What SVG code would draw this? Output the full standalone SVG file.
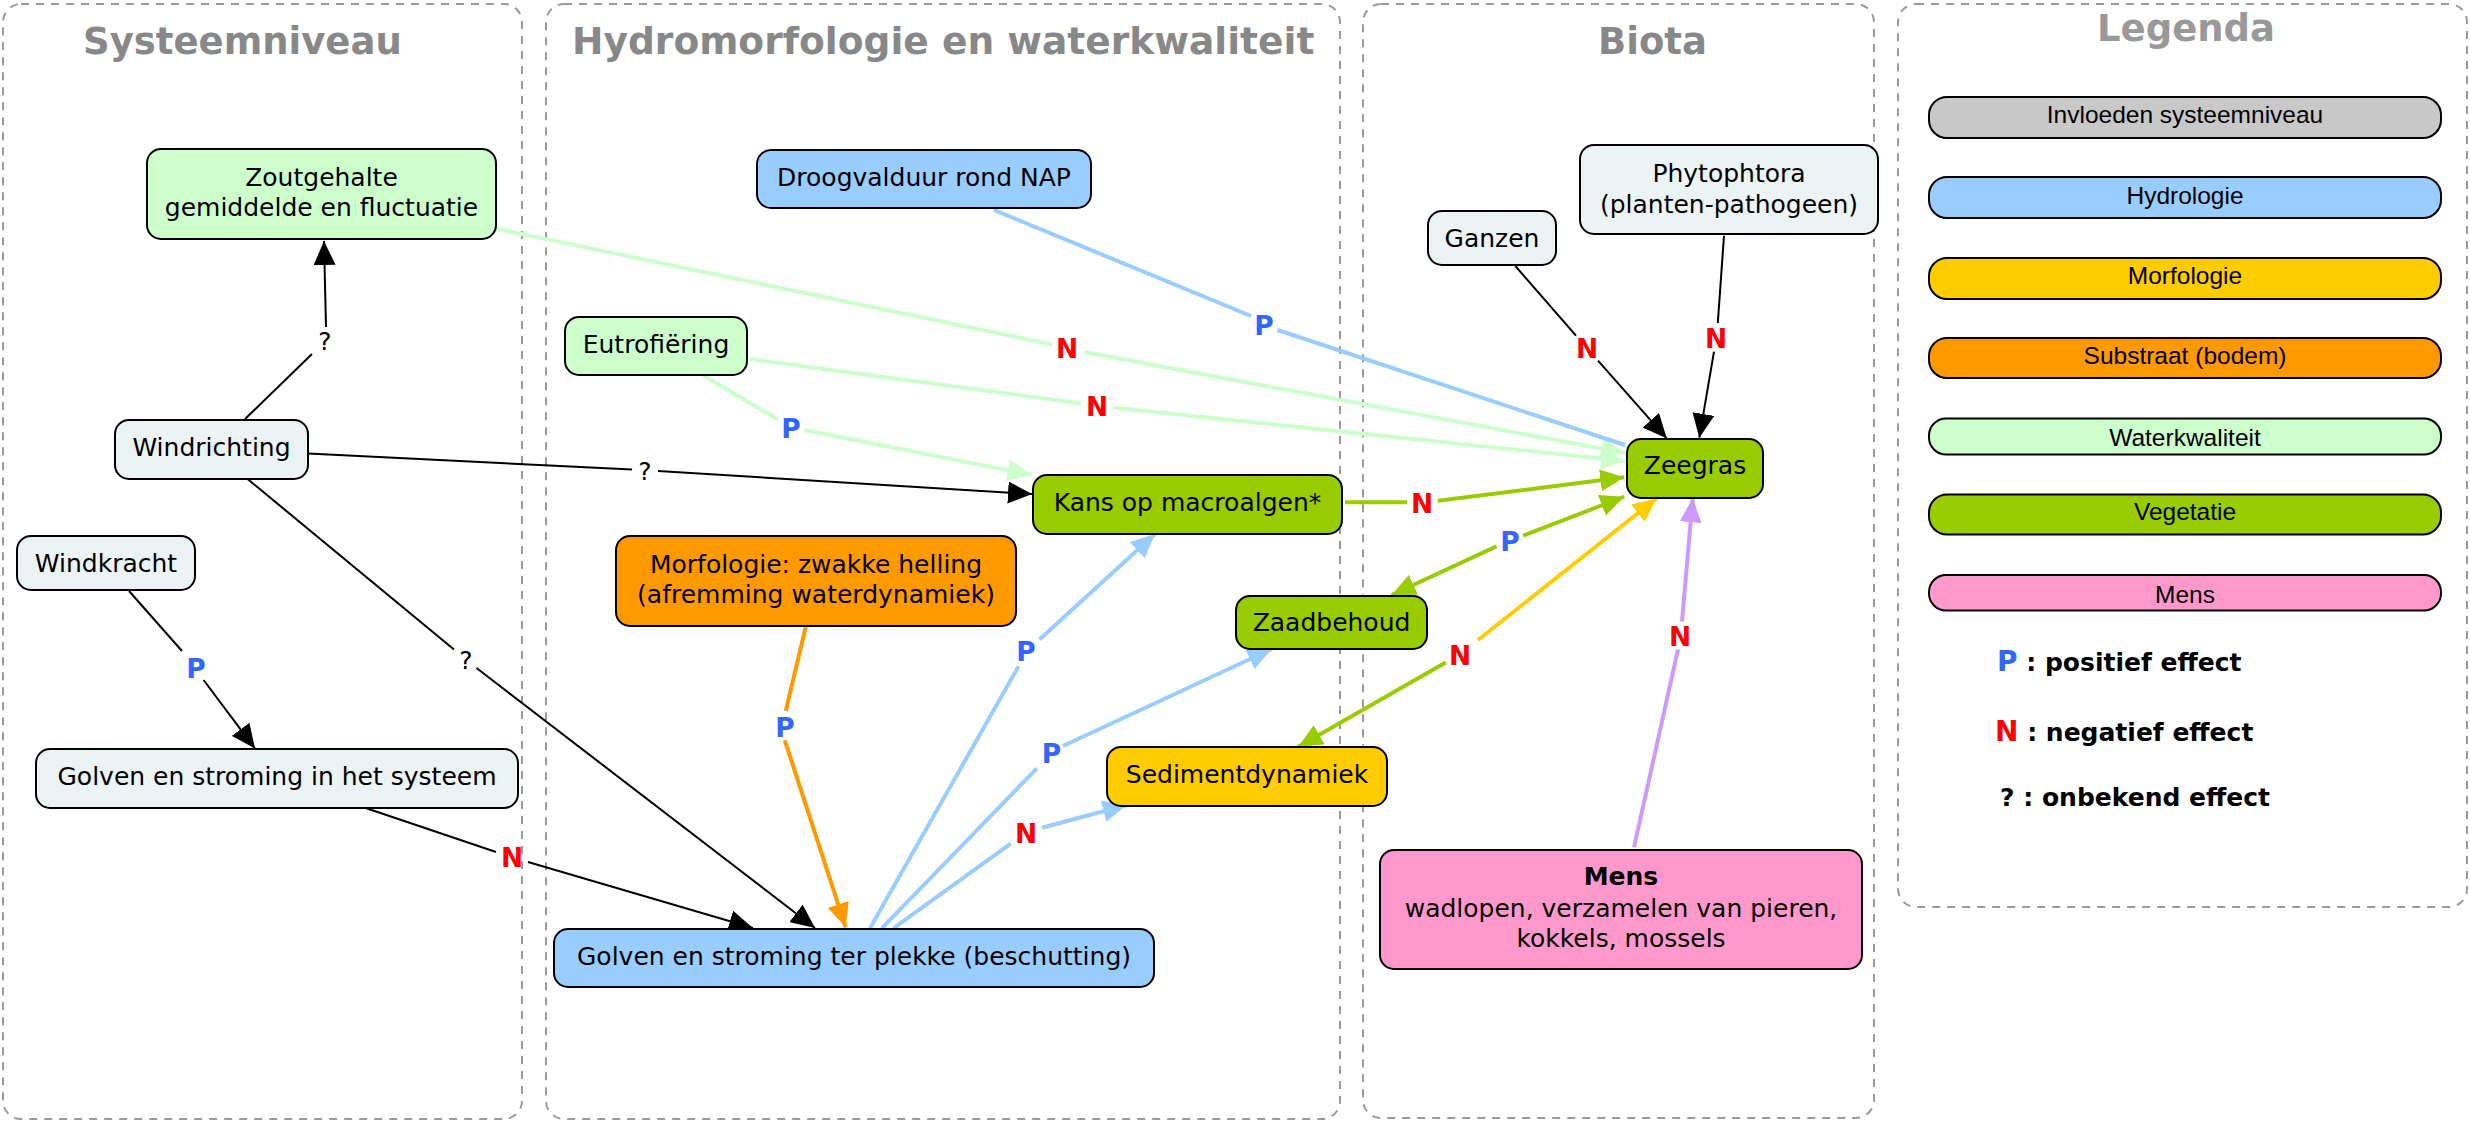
<svg xmlns="http://www.w3.org/2000/svg" width="2470" height="1122" viewBox="0 0 2470 1122">
  <style>
    .panel { fill: none; stroke: #9a9a9a; stroke-width: 2; stroke-dasharray: 8 7; }
    .ptitle { font-family: "DejaVu Sans", Verdana, sans-serif; font-weight: bold; font-size: 37px; fill: #888888; }
    .node rect { stroke: #000; stroke-width: 2; }
    .node text { font-family: "DejaVu Sans", Verdana, sans-serif; font-size: 25px; fill: #000; text-anchor: middle; }
    .sys { fill: #ebf3f5; }
    .hyd { fill: #99ccff; }
    .mor { fill: #ffcc00; }
    .sub { fill: #ff9900; }
    .wq  { fill: #ccffcc; }
    .veg { fill: #99cc00; }
    .men { fill: #ff99cc; }
    .inv { fill: #c8c8c8; }
    .ln { fill: none; stroke-linecap: butt; }
    .k  { stroke: #000; stroke-width: 2; }
    .b  { stroke: #99ccff; stroke-width: 4; }
    .lg { stroke: #ccffcc; stroke-width: 4; }
    .g  { stroke: #99cc00; stroke-width: 4; }
    .o  { stroke: #ff9900; stroke-width: 4; }
    .y  { stroke: #ffcc00; stroke-width: 4; }
    .pu { stroke: #cc99ff; stroke-width: 4; }
    .lbl { font-family: "DejaVu Sans", Verdana, sans-serif; font-size: 25px; text-anchor: middle; }
    .P { font-weight: bold; fill: #3366ff; font-size: 26.5px; }
    .N { font-weight: bold; fill: #ff0000; font-size: 26.5px; }
    .Q { fill: #000; }
    .leg rect { stroke: #000; stroke-width: 2; }
    .leg text.bar { font-family: "Liberation Sans", Arial, sans-serif; font-size: 24.5px; fill: #000; text-anchor: middle; }
    .leg text.eff { font-family: "DejaVu Sans", Verdana, sans-serif; font-weight: bold; font-size: 25px; fill: #000; text-anchor: start; }
  </style>
  <defs>
    <marker id="ak" markerUnits="userSpaceOnUse" markerWidth="24" markerHeight="22" refX="24" refY="11" orient="auto"><path d="M0,0 L24,11 L0,22 Z" fill="#000"/></marker>
    <marker id="ab" markerUnits="userSpaceOnUse" markerWidth="24" markerHeight="22" refX="24" refY="11" orient="auto"><path d="M0,0 L24,11 L0,22 Z" fill="#99ccff"/></marker>
    <marker id="alg" markerUnits="userSpaceOnUse" markerWidth="24" markerHeight="22" refX="24" refY="11" orient="auto"><path d="M0,0 L24,11 L0,22 Z" fill="#ccffcc"/></marker>
    <marker id="ag" markerUnits="userSpaceOnUse" markerWidth="24" markerHeight="22" refX="24" refY="11" orient="auto"><path d="M0,0 L24,11 L0,22 Z" fill="#99cc00"/></marker>
    <marker id="ao" markerUnits="userSpaceOnUse" markerWidth="24" markerHeight="22" refX="24" refY="11" orient="auto"><path d="M0,0 L24,11 L0,22 Z" fill="#ff9900"/></marker>
    <marker id="ay" markerUnits="userSpaceOnUse" markerWidth="24" markerHeight="22" refX="24" refY="11" orient="auto"><path d="M0,0 L24,11 L0,22 Z" fill="#ffcc00"/></marker>
    <marker id="apu" markerUnits="userSpaceOnUse" markerWidth="24" markerHeight="22" refX="24" refY="11" orient="auto"><path d="M0,0 L24,11 L0,22 Z" fill="#cc99ff"/></marker>
  </defs>

  <rect width="2470" height="1122" fill="#fff"/>

  <!-- column panels -->
  <g id="panels">
    <rect class="panel" x="3" y="4" width="519" height="1115" rx="18"/>
    <rect class="panel" x="546" y="4" width="794" height="1115" rx="18"/>
    <rect class="panel" x="1363" y="4" width="511" height="1114" rx="18"/>
    <rect class="panel" x="1898" y="4" width="569" height="903" rx="18"/>
    <text class="ptitle" x="83" y="54">Systeemniveau</text>
    <text class="ptitle" x="572" y="54" style="font-size:37.6px">Hydromorfologie en waterkwaliteit</text>
    <text class="ptitle" x="1598" y="54">Biota</text>
    <text class="ptitle" x="2097" y="41" style="fill:#999999">Legenda</text>
  </g>

  <!-- connectors: source -> linking label -> target -->
  <g id="connectors">
    <path class="ln k" d="M245,419 L312,354"/>
    <path class="ln k" d="M326,327 L324,241" marker-end="url(#ak)"/>
    <path class="ln k" d="M308,453.5 L632,469.5"/>
    <path class="ln k" d="M658,471 L1032,494" marker-end="url(#ak)"/>
    <path class="ln k" d="M247,478.5 L454,649.5"/>
    <path class="ln k" d="M476.5,668 L815,928" marker-end="url(#ak)"/>
    <path class="ln k" d="M129,591 L182,651"/>
    <path class="ln k" d="M203.6,680 L255,748.6" marker-end="url(#ak)"/>
    <path class="ln k" d="M365.7,808 L496,852"/>
    <path class="ln k" d="M528,862 L753,928" marker-end="url(#ak)"/>

    <path class="ln lg" d="M495.5,228.6 L1052.5,344.6"/>
    <path class="ln lg" d="M1084,352 L1625,453" marker-end="url(#alg)"/>
    <path class="ln lg" d="M749,359 L1081,403.5"/>
    <path class="ln lg" d="M1112.7,407.8 L1625,461" marker-end="url(#alg)"/>
    <path class="ln lg" d="M703.7,375.7 L778,419.6"/>
    <path class="ln lg" d="M804,430 L1031.6,475" marker-end="url(#alg)"/>

    <path class="ln b" d="M994,210 L1251,316"/>
    <path class="ln b" d="M1277.5,330 L1625,445"/>

    <path class="ln g" d="M1345,502.3 L1407,502.3"/>
    <path class="ln g" d="M1438,500.7 L1624.3,477.3" marker-end="url(#ag)"/>
    <path class="ln g" d="M1496.4,546.4 L1391.7,595" marker-end="url(#ag)"/>
    <path class="ln g" d="M1523,535.7 L1624.3,496.7" marker-end="url(#ag)"/>
    <path class="ln y" d="M1478,640 L1656.7,498.3" marker-end="url(#ay)"/>
    <path class="ln g" d="M1445.7,662.5 L1298.3,746.7" marker-end="url(#ag)"/>
    <path class="ln pu" d="M1634,847.4 L1678,649.5"/>
    <path class="ln pu" d="M1682,621.7 L1692.7,498.3" marker-end="url(#apu)"/>

    <path class="ln k" d="M1515.3,266 L1576,335.7"/>
    <path class="ln k" d="M1598,360.7 L1666.7,438.3" marker-end="url(#ak)"/>
    <path class="ln k" d="M1724,235.7 L1717.8,323"/>
    <path class="ln k" d="M1714,351.7 L1699.3,437.7" marker-end="url(#ak)"/>

    <path class="ln o" d="M805.7,627 L785.8,710.8"/>
    <path class="ln o" d="M784.8,740.4 L845.7,927.3" marker-end="url(#ao)"/>
    <path class="ln b" d="M870,928.3 L1018.6,666.2"/>
    <path class="ln b" d="M1039.5,639.5 L1155,534" marker-end="url(#ab)"/>
    <path class="ln b" d="M881.7,928.3 L1036.9,768.3"/>
    <path class="ln b" d="M1063,746 L1271.7,649" marker-end="url(#ab)"/>
    <path class="ln b" d="M893.3,928.3 L1010.7,843.7"/>
    <path class="ln b" d="M1042,827.7 L1126.7,805" marker-end="url(#ab)"/>

    <!-- linking phrases -->
    <text class="lbl Q" x="325" y="350">?</text>
    <text class="lbl Q" x="645" y="480">?</text>
    <text class="lbl Q" x="466" y="669">?</text>
    <text class="lbl P" x="196" y="677.5">P</text>
    <text class="lbl N" x="512" y="866.5">N</text>
    <text class="lbl N" x="1067" y="357.5">N</text>
    <text class="lbl N" x="1097" y="415.5">N</text>
    <text class="lbl P" x="791" y="437.5">P</text>
    <text class="lbl P" x="1264" y="334.5">P</text>
    <text class="lbl N" x="1422" y="512.5">N</text>
    <text class="lbl P" x="1510" y="550.5">P</text>
    <text class="lbl N" x="1460" y="664.5">N</text>
    <text class="lbl N" x="1680" y="645.5">N</text>
    <text class="lbl N" x="1587" y="357.5">N</text>
    <text class="lbl N" x="1716" y="347.5">N</text>
    <text class="lbl P" x="785" y="736.5">P</text>
    <text class="lbl P" x="1026" y="660.5">P</text>
    <text class="lbl P" x="1051.5" y="762.5">P</text>
    <text class="lbl N" x="1026" y="842.5">N</text>
  </g>

  <!-- concepts -->
  <g id="zoutgehalte" class="node">
    <rect class="wq" x="147" y="149" width="349" height="90" rx="14"/>
    <text x="321.5" y="186">Zoutgehalte</text>
    <text x="321.5" y="216">gemiddelde en fluctuatie</text>
  </g>
  <g id="windrichting" class="node">
    <rect class="sys" x="115" y="420" width="193" height="59" rx="14"/>
    <text x="211.5" y="456">Windrichting</text>
  </g>
  <g id="windkracht" class="node">
    <rect class="sys" x="17" y="536" width="178" height="54" rx="14"/>
    <text x="106" y="572">Windkracht</text>
  </g>
  <g id="golven-systeem" class="node">
    <rect class="sys" x="36" y="749" width="482" height="59" rx="14"/>
    <text x="277" y="785">Golven en stroming in het systeem</text>
  </g>
  <g id="droogvalduur" class="node">
    <rect class="hyd" x="757" y="150" width="334" height="58" rx="14"/>
    <text x="924" y="186">Droogvalduur rond NAP</text>
  </g>
  <g id="eutrofiering" class="node">
    <rect class="wq" x="565" y="317" width="182" height="58" rx="14"/>
    <text x="656" y="353">Eutrofiëring</text>
  </g>
  <g id="macroalgen" class="node">
    <rect class="veg" x="1033" y="475" width="309" height="59" rx="14"/>
    <text x="1187.5" y="511">Kans op macroalgen*</text>
  </g>
  <g id="morfologie" class="node">
    <rect class="sub" x="616" y="536" width="400" height="90" rx="14"/>
    <text x="816" y="573">Morfologie: zwakke helling</text>
    <text x="816" y="603">(afremming waterdynamiek)</text>
  </g>
  <g id="golven-plek" class="node">
    <rect class="hyd" x="554" y="929" width="600" height="58" rx="14"/>
    <text x="854" y="965">Golven en stroming ter plekke (beschutting)</text>
  </g>
  <g id="zaadbehoud" class="node">
    <rect class="veg" x="1236" y="596" width="191" height="53" rx="14"/>
    <text x="1331.5" y="631">Zaadbehoud</text>
  </g>
  <g id="sedimentdynamiek" class="node">
    <rect class="mor" x="1107" y="747" width="280" height="59" rx="14"/>
    <text x="1247" y="783">Sedimentdynamiek</text>
  </g>
  <g id="ganzen" class="node">
    <rect class="sys" x="1428" y="211" width="128" height="54" rx="14"/>
    <text x="1492" y="246.5">Ganzen</text>
  </g>
  <g id="phytophtora" class="node">
    <rect class="sys" x="1580" y="145" width="298" height="89" rx="14"/>
    <text x="1729" y="181.5">Phytophtora</text>
    <text x="1729" y="212.5">(planten-pathogeen)</text>
  </g>
  <g id="zeegras" class="node">
    <rect class="veg" x="1627" y="439" width="136" height="59" rx="14"/>
    <text x="1695" y="474">Zeegras</text>
  </g>
  <g id="mens" class="node">
    <rect class="men" x="1380" y="850" width="482" height="119" rx="14"/>
    <text x="1621" y="885" font-weight="bold">Mens</text>
    <text x="1621" y="917">wadlopen, verzamelen van pieren,</text>
    <text x="1621" y="947">kokkels, mossels</text>
  </g>

  <!-- legend -->
  <g id="legenda" class="leg">
    <rect class="inv" x="1929" y="97" width="512" height="41" rx="18"/>
    <text class="bar" x="2185" y="123">Invloeden systeemniveau</text>
    <rect class="hyd" x="1929" y="177" width="512" height="41" rx="18"/>
    <text class="bar" x="2185" y="203.5">Hydrologie</text>
    <rect class="mor" x="1929" y="258" width="512" height="41" rx="18"/>
    <text class="bar" x="2185" y="284">Morfologie</text>
    <rect class="sub" x="1929" y="338" width="512" height="40" rx="18"/>
    <text class="bar" x="2185" y="364">Substraat (bodem)</text>
    <rect class="wq" x="1929" y="418.5" width="512" height="36" rx="17"/>
    <text class="bar" x="2185" y="446">Waterkwaliteit</text>
    <rect class="veg" x="1929" y="494.5" width="512" height="40" rx="18"/>
    <text class="bar" x="2185" y="520">Vegetatie</text>
    <rect class="men" x="1929" y="575" width="512" height="35.5" rx="17"/>
    <text class="bar" x="2185" y="603">Mens</text>
    <text class="eff" x="1997" y="671"><tspan fill="#3366ff" font-size="28px">P</tspan> : positief effect</text>
    <text class="eff" x="1995" y="741"><tspan fill="#ff0000" font-size="28px">N</tspan> : negatief effect</text>
    <text class="eff" x="2000" y="806">? : onbekend effect</text>
  </g>
</svg>
